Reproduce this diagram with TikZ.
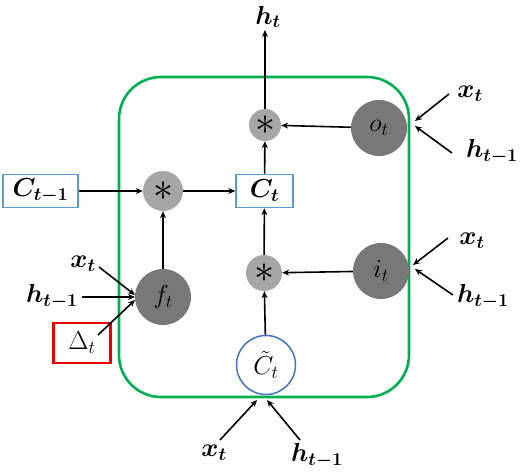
\RequirePackage{fix-cm}
\documentclass[tikz,border=0pt]{standalone}
\usepackage{amsmath}
\usepackage{bm}
\usetikzlibrary{arrows.meta}
\definecolor{frameg}{RGB}{0,176,80}
\definecolor{boxblue}{RGB}{91,155,213}
\definecolor{cblue}{RGB}{68,114,196}
\definecolor{boxred}{RGB}{235,0,0}
\definecolor{gatefill}{RGB}{120,120,120}
\definecolor{multfill}{RGB}{166,166,166}
\begin{document}
\begin{tikzpicture}[x=1pt,y=-1pt,
  every node/.style={font=\fontsize{26}{30}\selectfont, inner sep=1pt},
  arr/.style={draw=black, line width=1.6pt, -{Stealth[length=7pt,width=6pt]}},
  gate/.style={circle, fill=gatefill, minimum size=56pt, inner sep=0pt},
  mult/.style={circle, fill=multfill, inner sep=0pt, font=\fontsize{40}{40}\selectfont},
  cellbox/.style={draw=boxblue, line width=1.5pt, fill=white, minimum height=33pt, inner sep=0pt},
  lbl/.style={inner sep=1pt}
]
\useasboundingbox (0,0) rectangle (520,473);
% frame
\draw[frameg, line width=2.6pt, rounded corners=42pt] (119,77) rectangle (409,397);

% nodes
\node[mult, minimum size=32pt] (mT) at (265,125) {$\ast$};
\node[gate] (ot) at (379,128) {$o_t$};
\node[mult, minimum size=40pt] (mL) at (163,191) {$\ast$};
\node[cellbox, minimum width=75pt] (Cm1) at (40.5,191) {$\bm{C_{t-1}}$};
\node[cellbox, minimum width=57pt] (Ct) at (264.5,191) {$\bm{C_{t}}$};
\node[gate] (ft) at (163,297) {$f_t$};
\node[mult, minimum size=36pt] (mB) at (264,273) {$\ast$};
\node[gate] (it) at (381,271) {$i_t$};
\node[circle, draw=cblue, line width=1.5pt, fill=white, minimum size=59pt, inner sep=0pt] (Cc) at (266,365) {$\tilde{C}_t$};
\node[draw=boxred, line width=2.2pt, minimum width=57pt, minimum height=40pt, inner sep=0pt] (Dt) at (82,343) {$\Delta_t$};

% labels
\node[lbl] (ht) at (268,17) {$\bm{h_t}$};
\node[lbl] (xo) at (470,94) {$\bm{x_t}$};
\node[lbl] (ho) at (492,152) {$\bm{h_{t-1}}$};
\node[lbl] (xi) at (472,241) {$\bm{x_t}$};
\node[lbl] (hi) at (483,297) {$\bm{h_{t-1}}$};
\node[lbl] (xf) at (83,264) {$\bm{x_t}$};
\node[lbl] (hf) at (52,297) {$\bm{h_{t-1}}$};
\node[lbl] (xc) at (214,453) {$\bm{x_t}$};
\node[lbl] (hc) at (317,456) {$\bm{h_{t-1}}$};

% free ends
\coordinate (htE) at (265,30);
\coordinate (xoS) at (449,94);
\coordinate (xoE) at (415,121);
\coordinate (hoS) at (452,153);
\coordinate (hoE) at (415,126);
\coordinate (xiS) at (448,238);
\coordinate (xiE) at (413,265);
\coordinate (hiS) at (453,295);
\coordinate (hiE) at (415,269);
\coordinate (xcS) at (220,440);
\coordinate (xcE) at (257,400);
\coordinate (hcS) at (300,440);
\coordinate (hcE) at (267,400);
\coordinate (xfS) at (99,267);
\coordinate (xfE) at (135,295);
\coordinate (hfS) at (82,297);
\coordinate (hfE) at (135,297);
\coordinate (DtS) at (98,335);
\coordinate (DtE) at (135,300);

% connectors
\draw[arr] (mT) -- (htE);
\draw[arr] (ot) -- (mT);
\draw[arr] (Ct) -- (mT);
\draw[arr] (Cm1) -- (mL);
\draw[arr] (mL) -- (Ct);
\draw[arr] (ft) -- (mL);
\draw[arr] (mB) -- (Ct);
\draw[arr] (it) -- (mB);
\draw[arr] (Cc) -- (mB);
\draw[arr] (xoS) -- (xoE);
\draw[arr] (hoS) -- (hoE);
\draw[arr] (xiS) -- (xiE);
\draw[arr] (hiS) -- (hiE);
\draw[arr] (xcS) -- (xcE);
\draw[arr] (hcS) -- (hcE);
\draw[arr] (xfS) -- (xfE);
\draw[arr] (hfS) -- (hfE);
\draw[arr] (DtS) -- (DtE);
\end{tikzpicture}
\end{document}
